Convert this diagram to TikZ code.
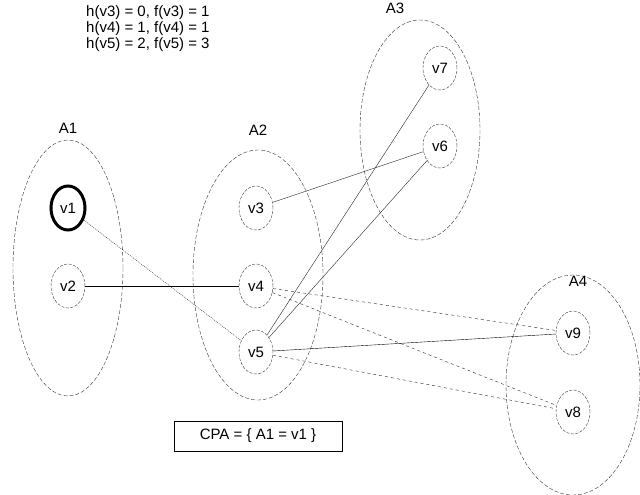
\documentclass[tikz,border=0pt]{standalone}
\usetikzlibrary{shapes.geometric}
\usepackage{fontspec}
\setmainfont{Liberation Sans}
\begin{document}
\begin{tikzpicture}[x=1pt,y=-1pt,
  vtx/.style={draw=black!80,ellipse,minimum width=34pt,minimum height=44pt,inner sep=0pt,font=\fontsize{15}{15}\selectfont},
  dsh/.style={dash pattern=on 3pt off 1.5pt},
  lbl/.style={font=\fontsize{15}{15}\selectfont},
  edg/.style={draw=black!85,thin}]
\useasboundingbox (0,0) rectangle (640,495);
\draw[dash pattern=on 4pt off 2pt,black!80] (68,268) ellipse [x radius=55,y radius=128];
\draw[dash pattern=on 4pt off 2pt,black!80] (258,275) ellipse [x radius=65,y radius=125];
\draw[dash pattern=on 4pt off 2pt,black!80] (420,130) ellipse [x radius=60,y radius=110];
\draw[dash pattern=on 4pt off 2pt,black!80] (573,385) ellipse [x radius=67,y radius=110];
\node[lbl] (A1) at (68,128) {A1};
\node[lbl] (A2) at (258,130) {A2};
\node[lbl] (A3) at (395,8) {A3};
\node[lbl] (A4) at (578,281) {A4};
\node[vtx,draw=black,line width=3pt] (v1) at (68,208) {v1};
\node[vtx,dsh] (v2) at (68,286) {v2};
\node[vtx,dsh] (v3) at (256,208) {v3};
\node[vtx,dsh] (v4) at (256,286) {v4};
\node[vtx,dsh] (v5) at (256,352) {v5};
\node[vtx,dsh] (v7) at (440,68) {v7};
\node[vtx,dsh] (v6) at (440,146) {v6};
\node[vtx,dsh] (v9) at (573,333) {v9};
\node[vtx,dsh] (v8) at (573,412) {v8};
\draw[edg,dash pattern=on 1pt off 1pt] (v1) -- (v5);
\draw[black] (v2) -- (v4);
\draw[edg] (v3) -- (v6);
\draw[edg] (v5) -- (v7);
\draw[edg] (v5) -- (v6);
\draw[edg,dashed] (v4) -- (v9);
\draw[edg,dashed] (v4) -- (v8);
\draw[black] (v5) -- (v9);
\draw[edg,dashed] (v5) -- (v8);
\node[draw,lbl,minimum width=168pt,minimum height=30pt] (cpa) at (258,436) {CPA = \{ A1 = v1 \}};
\node[lbl,align=left,anchor=north west,inner sep=0pt] (h) at (86,5) {h(v3) = 0, f(v3) = 1\\[1pt] h(v4) = 1, f(v4) = 1\\[1pt] h(v5) = 2, f(v5) = 3};
\end{tikzpicture}
\end{document}
